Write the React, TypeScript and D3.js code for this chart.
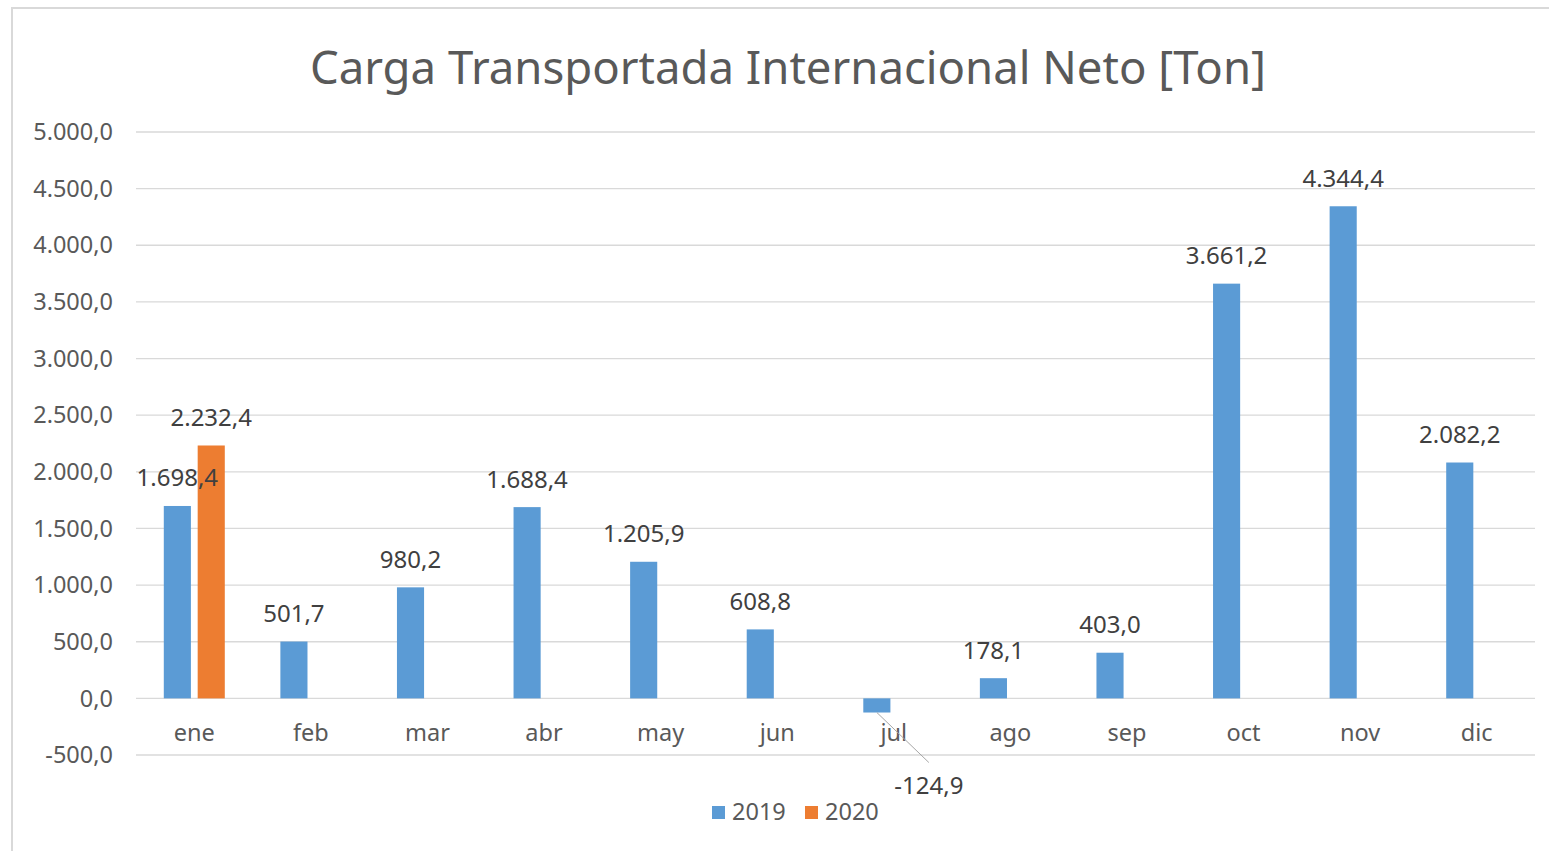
import React, { useRef, useEffect } from 'react';
import * as d3 from 'd3';

const months = ['ene', 'feb', 'mar', 'abr', 'may', 'jun', 'jul', 'ago', 'sep', 'oct', 'nov', 'dic'];
const values2019 = [1698.4, 501.7, 980.2, 1688.4, 1205.9, 608.8, -124.9, 178.1, 403.0, 3661.2, 4344.4, 2082.2];
const values2020 = [2232.4];
const yTicks = [-500, 0, 500, 1000, 1500, 2000, 2500, 3000, 3500, 4000, 4500, 5000];
const seriesNames = ['2019', '2020'];
const colors = ['#5B9BD5', '#ED7D31'];

const W = 1549;
const H = 851;
const FONT = "'Noto Sans', sans-serif";
const TEXT = '#595959';
const TICK = 23.5;
const LABEL = 24;

const fmt = d3.formatLocale({ decimal: ',', thousands: '.', grouping: [3], currency: ['', ''], minus: '-' }).format(',.1f');

const App = () => {
  const ref = useRef<SVGSVGElement>(null);

  useEffect(() => {
    const svg = d3.select(ref.current);
    svg.selectAll('*').remove();

    // chart frame
    svg.append('rect')
      .attr('x', 12).attr('y', 8)
      .attr('width', W).attr('height', H)
      .attr('fill', '#fff')
      .attr('stroke', '#D9D9D9').attr('stroke-width', 2);

    svg.append('text')
      .attr('x', 788).attr('y', 84)
      .attr('text-anchor', 'middle')
      .attr('font-family', FONT).attr('font-size', 45.5)
      .attr('fill', TEXT)
      .text('Carga Transportada Internacional Neto [Ton]');

    const left = 136, right = 1535;
    const y = d3.scaleLinear().domain([-500, 5000]).range([755, 132]);
    const x = d3.scaleBand().domain(months).range([left, right]);
    const inner = d3.scaleBand().domain(seriesNames).range([0, 61]).paddingInner(0.2);
    const off = (x.bandwidth() - 61) / 2;

    // gridlines
    svg.append('g').selectAll('line').data(yTicks).join('line')
      .attr('x1', left).attr('x2', right)
      .attr('y1', d => y(d)).attr('y2', d => y(d))
      .attr('stroke', '#D9D9D9').attr('stroke-width', 1.3);

    // y tick labels
    svg.append('g').selectAll('text').data(yTicks).join('text')
      .attr('x', 113).attr('y', d => y(d))
      .attr('dy', '0.35em')
      .attr('text-anchor', 'end')
      .attr('font-family', FONT).attr('font-size', TICK)
      .attr('fill', TEXT)
      .text(d => fmt(d));

    // category labels
    svg.append('g').selectAll('text').data(months).join('text')
      .attr('x', d => (x(d) as number) + x.bandwidth() / 2)
      .attr('y', 733)
      .attr('dy', '0.35em')
      .attr('text-anchor', 'middle')
      .attr('font-family', FONT).attr('font-size', TICK)
      .attr('fill', TEXT)
      .text(d => d);

    const series = [values2019, values2020];
    const bars = svg.append('g');
    const labels = svg.append('g');
    series.forEach((vals, si) => {
      const name = seriesNames[si];
      const data = vals.map((v, i) => ({ m: months[i], v }));
      const bx = (m: string) => (x(m) as number) + off + (inner(name) as number);
      bars.append('g').selectAll('rect').data(data).join('rect')
        .attr('x', d => bx(d.m))
        .attr('width', inner.bandwidth())
        .attr('y', d => y(Math.max(0, d.v)))
        .attr('height', d => Math.abs(y(d.v) - y(0)))
        .attr('fill', colors[si]);

      data.forEach(d => {
        const cx = bx(d.m) + inner.bandwidth() / 2;
        if (d.v < 0) {
          labels.append('line')
            .attr('x1', cx).attr('y1', y(d.v))
            .attr('x2', cx + 52).attr('y2', y(d.v) + 50)
            .attr('stroke', '#A6A6A6').attr('stroke-width', 1);
          labels.append('text')
            .attr('x', cx + 52).attr('y', y(d.v) + 73)
            .attr('dy', '0.35em')
            .attr('text-anchor', 'middle')
            .attr('font-family', FONT).attr('font-size', LABEL)
            .attr('fill', '#404040')
            .text(fmt(d.v));
        } else {
          labels.append('text')
            .attr('x', cx).attr('y', y(d.v) - 28)
            .attr('dy', '0.35em')
            .attr('text-anchor', 'middle')
            .attr('font-family', FONT).attr('font-size', LABEL)
            .attr('fill', '#404040')
            .text(fmt(d.v));
        }
      });
    });

    // legend
    const legend = svg.append('g');
    const lx = [712, 805];
    seriesNames.forEach((n, i) => {
      legend.append('rect')
        .attr('x', lx[i]).attr('y', 806)
        .attr('width', 13).attr('height', 13)
        .attr('fill', colors[i]);
      legend.append('text')
        .attr('x', lx[i] + 20).attr('y', 812)
        .attr('dy', '0.35em')
        .attr('font-family', FONT).attr('font-size', 23.5)
        .attr('fill', TEXT)
        .text(n);
    });
  }, []);

  return (
    <svg ref={ref} width={W} height={H} style={{ position: 'absolute', left: 0, top: 0 }}></svg>
  );
};

export default App;
